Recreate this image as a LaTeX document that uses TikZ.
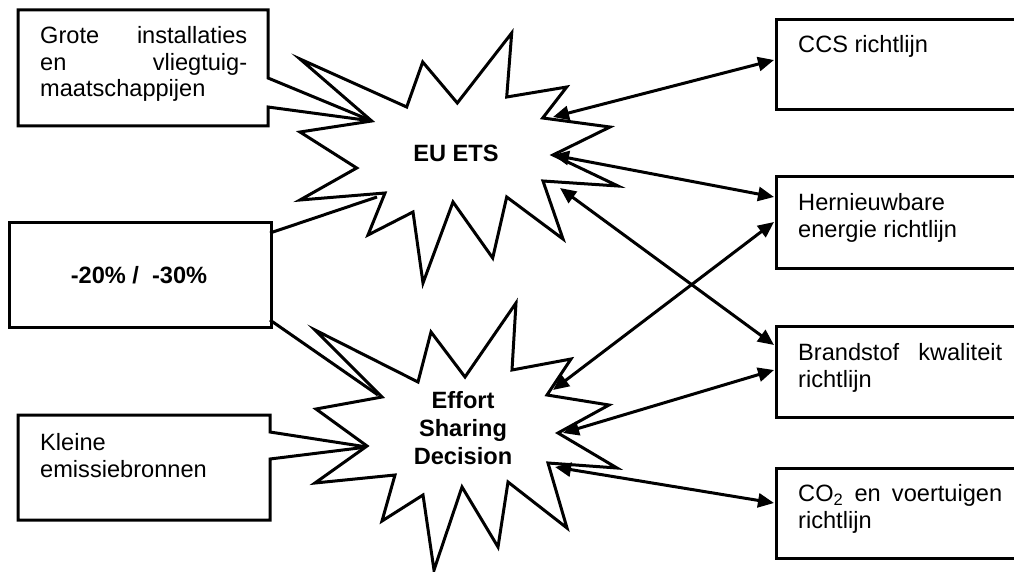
\documentclass[tikz,border=0pt]{standalone}
\usepackage{fontspec}
\setmainfont{Liberation Sans}
\usetikzlibrary{arrows.meta}
\begin{document}
\begin{tikzpicture}[x=1pt,y=-1pt,
  outline/.style={line width=3pt, line join=miter, miter limit=12},
  box/.style={draw, line width=3pt, inner sep=0pt, anchor=north west},
  link/.style={line width=3pt,
    {Triangle[length=16pt,width=14pt]}-{Triangle[length=16pt,width=14pt]}},
  txt/.style={inner sep=0pt, anchor=base west, align=left,
    font=\fontsize{23.6}{26.6}\selectfont},
  bold/.style={inner sep=0pt, anchor=base, align=center,
    font=\fontsize{23.6}{28}\selectfont\bfseries}]
\clip (0,0) rectangle (1014,572);
% multi-line labels are placed by the baseline of their last line

% ---- left callout boxes ----
\draw[outline] (268,107) -- (268,126) -- (18,126) -- (18,10) -- (268,10)
  -- (268,78) -- (372,121) -- cycle;
\node[txt] (grote) at (40,97)
  {\makebox[207pt][s]{Grote installaties}\\\makebox[207pt][s]{en vliegtuig-}\\maatschappijen};

\node[box, minimum width=262pt, minimum height=105pt] (target) at (8,221) {};
\node[bold] (targettxt) at (139,283) {-20\% /\ \ -30\%};
\coordinate (t-up) at (270,233);
\coordinate (t-down) at (270,320);

\draw[outline] (270,459) -- (270,520) -- (18,520) -- (18,415) -- (270,415)
  -- (270,432) -- (367,447) -- cycle;
\node[txt] (kleine) at (40,477) {Kleine\\emissiebronnen};

% ---- EU ETS starburst ----
\draw[outline, fill=white] (300,59) -- (406.7,107) -- (422.7,62) -- (457.3,103)
  -- (511.7,33) -- (506.7,97) -- (566.7,87) -- (542.7,118) -- (610,127)
  -- (553,155) -- (618,186) -- (543,181) -- (563,239) -- (506.7,197)
  -- (492.7,258) -- (453,202) -- (423,283) -- (413,212) -- (368,235)
  -- (385,193) -- (300,200) -- (356.7,168) -- (300,132) -- (371.7,121) -- cycle;
\node[bold] (ets) at (456,162) {EU ETS};

% ---- Effort Sharing Decision starburst ----
\draw[outline, fill=white] (315,330) -- (418,382) -- (431,332) -- (465,377)
  -- (516,303) -- (512,370) -- (571,359) -- (547,395) -- (609,405)
  -- (558,433) -- (617,468) -- (548,463) -- (567,528) -- (508,482)
  -- (498,547) -- (462,487) -- (434,570) -- (423,495) -- (382,521)
  -- (395,475) -- (315,483) -- (367,446) -- (316,409) -- (382,397) -- cycle;
\node[bold] (esd) at (463,464) {Effort\\Sharing\\Decision};

% lines from the target box to both instruments
\coordinate (ets-in) at (377,197);
\coordinate (esd-in) at (378,395);
\draw[line width=3pt] (t-up) -- (ets-in);
\draw[line width=3pt] (t-down) -- (esd-in);

% ---- right-hand directives ----
\node[box, minimum width=260pt, minimum height=90pt] (ccs) at (775,18) {};
\node[txt] (ccstxt) at (798,53) {CCS richtlijn};
\node[box, minimum width=260pt, minimum height=92pt] (her) at (775,175) {};
\node[txt] (hertxt) at (798,237) {Hernieuwbare\\energie richtlijn};
\node[box, minimum width=260pt, minimum height=91pt] (bra) at (775,325) {};
\node[txt] (bratxt) at (798,387) {\makebox[204pt][s]{Brandstof kwaliteit}\\richtlijn};
\node[box, minimum width=260pt, minimum height=90pt] (co2) at (775,467) {};
\node[txt] (co2txt) at (798,528) {\makebox[204pt][s]{CO\textsubscript{2} en voertuigen}\\richtlijn};

% ---- arrow end points ----
\coordinate (ets-a) at (553,117);
\coordinate (ets-b) at (553,155);
\coordinate (ets-c) at (560,188);
\coordinate (esd-a) at (553,390);
\coordinate (esd-b) at (563,433);
\coordinate (esd-c) at (555,467);
\coordinate (ccs-a) at (774,60);
\coordinate (her-a) at (774,197);
\coordinate (her-b) at (774,222);
\coordinate (bra-a) at (774,345);
\coordinate (bra-b) at (774,370);
\coordinate (co2-a) at (774,503);

\draw[link] (ets-a) -- (ccs-a);
\draw[link] (ets-b) -- (her-a);
\draw[link] (ets-c) -- (bra-a);
\draw[link] (esd-a) -- (her-b);
\draw[link] (esd-b) -- (bra-b);
\draw[link] (esd-c) -- (co2-a);
\end{tikzpicture}
\end{document}
